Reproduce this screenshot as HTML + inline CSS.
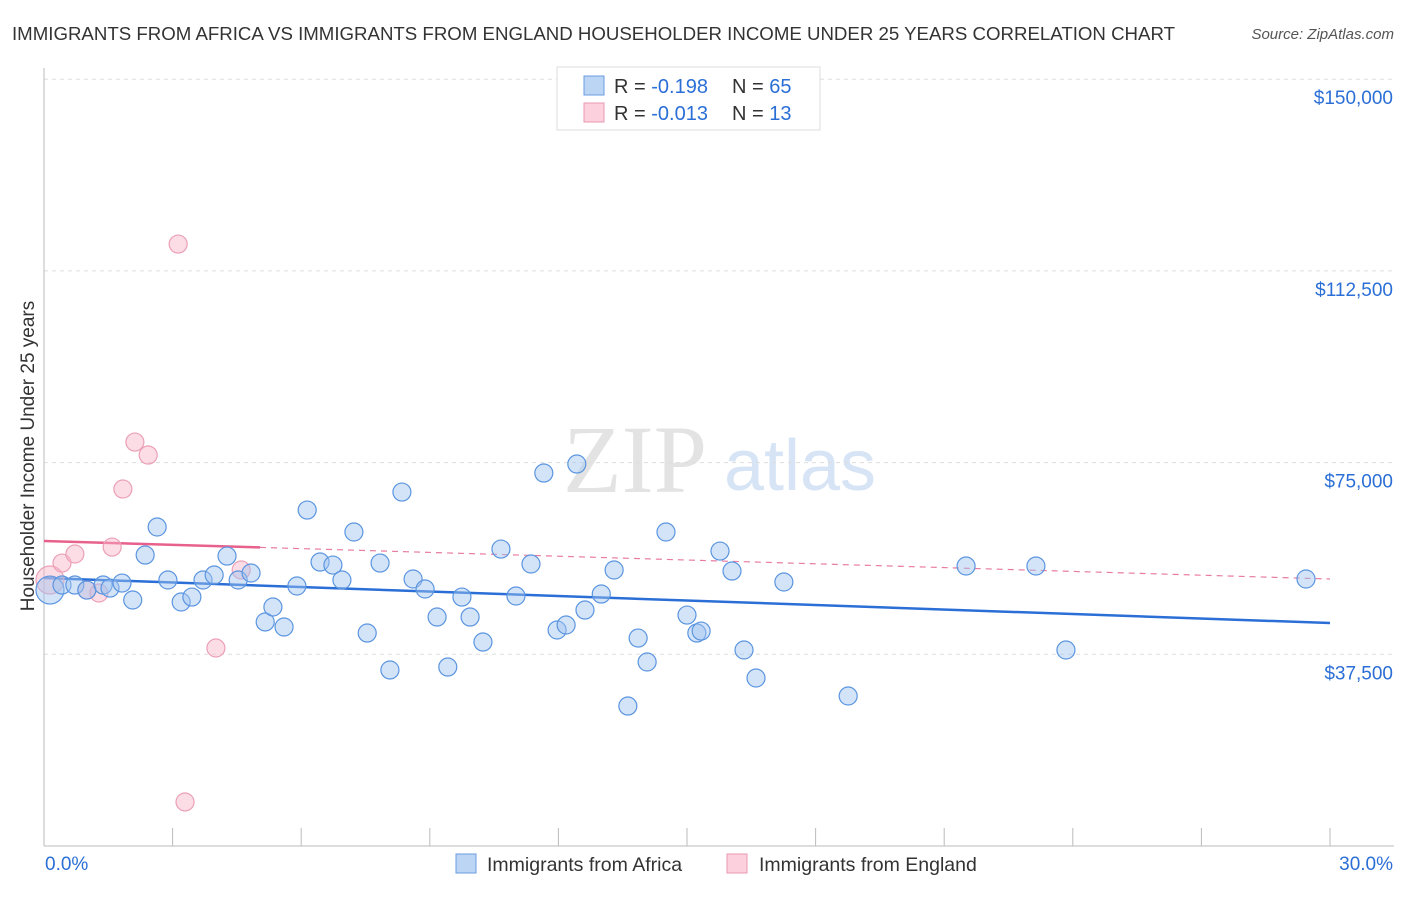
<!DOCTYPE html>
<html><head><meta charset="utf-8"><style>
body{margin:0;background:#fff;font-family:"Liberation Sans",sans-serif}
svg text{font-family:"Liberation Sans",sans-serif}
</style></head><body>
<svg id="chart" width="1406" height="892" viewBox="0 0 1406 892">
<text x="12" y="40" font-size="18" fill="#333" textLength="1163" lengthAdjust="spacingAndGlyphs">IMMIGRANTS FROM AFRICA VS IMMIGRANTS FROM ENGLAND HOUSEHOLDER INCOME UNDER 25 YEARS CORRELATION CHART</text>
<text x="1394" y="39" font-size="15" fill="#555" font-style="italic" text-anchor="end">Source: ZipAtlas.com</text>
<g>
<text x="635" y="492" font-size="96" fill="#e3e3e3" text-anchor="middle" font-family="Liberation Serif" style="font-family:'Liberation Serif',serif">ZIP</text>
<text x="800" y="490" font-size="72" fill="#d6e4f5" text-anchor="middle">atlas</text>
</g>
<g id="grid"></g><g id="axes"></g><g id="trends"></g><g id="points"></g>
<text transform="translate(34,456) rotate(-90)" font-size="19" fill="#333" text-anchor="middle">Householder Income Under 25 years</text>
<g>
<rect x="557" y="67" width="263" height="63" fill="#fff" stroke="#ddd"/>
<rect x="584" y="76" width="20" height="19" fill="#bcd5f5" stroke="#6a9be0"/>
<rect x="584" y="103" width="20" height="19" fill="#fcd0dc" stroke="#e99ab2"/>
<text x="614" y="93" font-size="20" fill="#333">R = <tspan fill="#2b6fd6">-0.198</tspan><tspan x="732">N = </tspan><tspan fill="#2b6fd6">65</tspan></text>
<text x="614" y="120" font-size="20" fill="#333">R = <tspan fill="#2b6fd6">-0.013</tspan><tspan x="732">N = </tspan><tspan fill="#2b6fd6"> 13</tspan></text>
</g>
<g>
<rect x="456" y="854" width="20" height="19" fill="#bcd5f5" stroke="#6a9be0"/>
<text x="487" y="871" font-size="19.5" fill="#333">Immigrants from Africa</text>
<rect x="727" y="854" width="20" height="19" fill="#fcd0dc" stroke="#e99ab2"/>
<text x="759" y="871" font-size="19.5" fill="#333">Immigrants from England</text>
</g>
</svg>
<script>
const yTicks=[37500,75000,112500,150000];
const yTickLabels=["$37,500","$75,000","$112,500","$150,000"];
const xTicks=[0,3,6,9,12,15,18,21,24,27,30];
const xEndLabels=["0.0%","30.0%"];
const africaX=[0.14,0.42,0.72,1.0,1.38,1.54,1.82,2.07,2.36,2.64,2.89,3.20,3.45,3.71,3.97,4.27,4.53,4.83,5.16,5.34,5.60,5.90,6.14,6.44,6.74,6.95,7.23,7.54,7.84,8.07,8.35,8.61,8.89,9.17,9.42,9.75,9.94,10.24,10.66,11.01,11.36,11.66,11.97,12.18,12.43,12.62,13.0,13.30,13.62,13.86,14.07,14.51,15.0,15.23,15.33,15.77,16.05,16.33,16.61,17.26,18.76,21.51,23.14,23.84,29.44];
const africaY=[50070,51050,51050,50070,51050,50460,51440,48120,56920,62400,52030,47730,48700,52030,53010,56720,52030,53400,43820,46750,42840,50860,65720,55550,54960,52030,61420,41660,55350,34430,69240,52230,50270,44790,35010,48700,44790,39900,58090,48900,55160,72960,42250,43230,74720,46160,49290,53990,27380,40680,35990,61420,45180,41660,42050,57700,53790,38340,32860,51640,29340,54770,54770,38340,52230];
const englandX=[0.14,0.42,0.72,1.0,1.28,1.59,1.84,2.12,2.43,3.13,3.29,4.01,4.60];
const englandY=[52030,55350,57120,50070,49490,58480,69830,79020,76480,117750,8610,38730,53990];
const africaTrend=[52420,43620];
const englandTrend=[59660,52230];
const englandSolidEnd=5.04;

const NS="http://www.w3.org/2000/svg";
const x0=44,x1=1330,yBase=846,pxPer=191.7/37500;
const sx=v=>x0+(v/30)*(x1-x0);
const sy=v=>yBase-v*pxPer;
function mk(tag,attrs,parent){const e=document.createElementNS(NS,tag);for(const k in attrs)e.setAttribute(k,attrs[k]);parent.appendChild(e);return e;}
const grid=document.getElementById('grid'),axes=document.getElementById('axes'),trends=document.getElementById('trends'),pts=document.getElementById('points');
yTicks.forEach((t,i)=>{
  const y=sy(t);
  const l=mk('line',{x1:x0,x2:1394,y1:y,y2:y,stroke:'#ddd','stroke-dasharray':'4,4'},grid);
  
  
  const tx=mk('text',{x:1393,y:y+25,'font-size':19,fill:'#2b6fd6','text-anchor':'end'},axes);
  tx.textContent=yTickLabels[i];
  
  
});
const ya=mk('line',{x1:x0,x2:x0,y1:68,y2:yBase,stroke:'#bbb'},axes);


const xa=mk('line',{x1:x0,x2:1394,y1:yBase,y2:yBase,stroke:'#bbb'},axes);


xTicks.forEach(t=>{
  const tk=mk('line',{x1:sx(t),x2:sx(t),y1:yBase,y2:yBase-18,stroke:'#bbb'},axes);
  
  
});
const xl0=mk('text',{x:45,y:870,'font-size':19,fill:'#2b6fd6'},axes);xl0.textContent=xEndLabels[0];


const xl1=mk('text',{x:1393,y:870,'font-size':19,fill:'#2b6fd6','text-anchor':'end'},axes);xl1.textContent=xEndLabels[1];


function drawPts(X,Y,fill,stroke,name){
  X.forEach((x,i)=>{
    const c=mk('circle',{cx:sx(x),cy:sy(Y[i]),r:i===0?14:9,fill:fill,stroke:stroke,'stroke-width':1.2},pts);
    
    
  });
}
drawPts(englandX,englandY,'rgba(248,180,200,0.45)','#eba0b6','england-point');
drawPts(africaX,africaY,'rgba(160,195,240,0.45)','#5b95e0','africa-point');
const ev=x=>englandTrend[0]+(englandTrend[1]-englandTrend[0])*x/30;
const ed=mk('line',{x1:sx(englandSolidEnd),y1:sy(ev(englandSolidEnd)),x2:sx(30),y2:sy(englandTrend[1]),stroke:'#e87da0','stroke-width':1.2,'stroke-dasharray':'6,5'},trends);


const es=mk('line',{x1:sx(0),y1:sy(englandTrend[0]),x2:sx(englandSolidEnd),y2:sy(ev(englandSolidEnd)),stroke:'#e8618c','stroke-width':2.5},trends);


const at=mk('line',{x1:sx(0),y1:sy(africaTrend[0]),x2:sx(30),y2:sy(africaTrend[1]),stroke:'#2b6fd6','stroke-width':2.5},trends);


</script>
</body></html>
